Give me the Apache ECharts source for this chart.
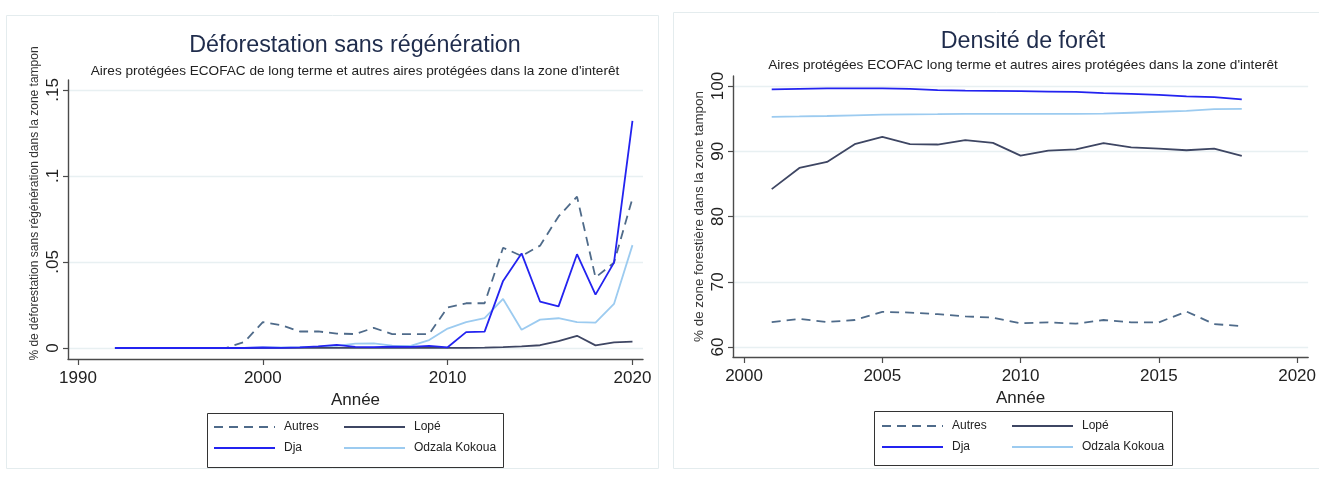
<!DOCTYPE html>
<html>
<head>
<meta charset="utf-8">
<script src="https://cdn.jsdelivr.net/npm/echarts@6/dist/echarts.min.js"></script>
<style>
  html, body { margin: 0; padding: 0; background: #ffffff; }
  #chart { width: 1319px; height: 478px; }
</style>
</head>
<body>
<div id="chart"></div>
<script>
// ---- Déforestation sans régénération (share of buffer zone) ----
const defoYears = [1992, 1993, 1994, 1995, 1996, 1997, 1998, 1999, 2000, 2001,
  2002, 2003, 2004, 2005, 2006, 2007, 2008, 2009, 2010, 2011,
  2012, 2013, 2014, 2015, 2016, 2017, 2018, 2019, 2020];
const defoAutres = [0, 0, 0, 0, 0, 0, 0, 0.0035, 0.015, 0.0133,
  0.0096, 0.0096, 0.0084, 0.0081, 0.0117, 0.0081, 0.0081, 0.0081, 0.0236, 0.026,
  0.026, 0.0583, 0.0535, 0.0595, 0.0765, 0.088, 0.041, 0.0496, 0.087];
const defoLope = [0, 0, 0, 0, 0, 0, 0, 0, 0.0001, 0.0001,
  0.0001, 0.0001, 0.0001, 0.0001, 0.0001, 0.0001, 0.0001, 0.0001, 0.0001, 0.0001,
  0.0002, 0.0005, 0.0009, 0.0016, 0.004, 0.0071, 0.0015, 0.0033, 0.0037];
const defoDja = [0, 0, 0, 0, 0, 0, 0, 0, 0.0003, 0.0001,
  0.0004, 0.0009, 0.0018, 0.0006, 0.0005, 0.0008, 0.0006, 0.0012, 0.0004, 0.0092,
  0.0095, 0.039, 0.055, 0.027, 0.0242, 0.0545, 0.031, 0.0496, 0.132];
const defoOdzala = [0, 0, 0, 0, 0, 0, 0, 0, 0.0004, 0.0004,
  0.0005, 0.0008, 0.0012, 0.0025, 0.0027, 0.0014, 0.0012, 0.0046, 0.0113, 0.015,
  0.0173, 0.0285, 0.0106, 0.0165, 0.0173, 0.015, 0.0148, 0.0256, 0.0598];
const defoXTicks = [1990, 2000, 2010, 2020];
const defoYTicks = [0, 0.05, 0.1, 0.15];

// ---- Densité de forêt (% forest cover in buffer zone) ----
const forestYears = [2001, 2002, 2003, 2004, 2005, 2006, 2007, 2008, 2009,
  2010, 2011, 2012, 2013, 2014, 2015, 2016, 2017, 2018];
const forestAutres = [63.83, 64.3, 63.83, 64.14, 65.39, 65.28, 65.03, 64.7, 64.5,
  63.63, 63.78, 63.57, 64.14, 63.78, 63.78, 65.44, 63.52, 63.2];
const forestLope = [84.2, 87.44, 88.36, 91.08, 92.2, 91.08, 91.03, 91.7, 91.28,
  89.33, 90.1, 90.3, 91.23, 90.6, 90.4, 90.15, 90.4, 89.28];
const forestDja = [99.49, 99.55, 99.62, 99.64, 99.64, 99.55, 99.38, 99.3, 99.25,
  99.2, 99.15, 99.1, 98.9, 98.8, 98.65, 98.4, 98.3, 97.95];
const forestOdzala = [95.28, 95.33, 95.4, 95.5, 95.6, 95.65, 95.68, 95.72, 95.74,
  95.72, 95.72, 95.72, 95.76, 95.9, 96.05, 96.2, 96.46, 96.5];
const forestXTicks = [2000, 2005, 2010, 2015, 2020];
const forestYTicks = [60, 70, 80, 90, 100];

const FONT = '"Liberation Sans", Arial, sans-serif';
const INK = '#222222';
const AXIS = '#4b4b4b';
const GRIDLINE = '#e8f0f2';

const styles = {
  'Autres':        { color: '#4f6b8a', width: 1.8, type: [9, 6] },
  'Lopé':          { color: '#3e4663', width: 1.8, type: 'solid' },
  'Dja':           { color: '#2323f0', width: 1.8, type: 'solid' },
  'Odzala Kokoua': { color: '#9ccbf0', width: 1.8, type: 'solid' }
};

function lineSeries(name, xs, ys, axisIndex, z) {
  const s = styles[name];
  return {
    type: 'line',
    name: name,
    xAxisIndex: axisIndex,
    yAxisIndex: axisIndex,
    data: xs.map((x, i) => [x, ys[i]]),
    symbol: 'none',
    color: s.color,
    lineStyle: { color: s.color, width: s.width, type: s.type },
    z: z,
    animation: false
  };
}

function xAxisDef(gridIndex, min, max, ticks) {
  return {
    type: 'value', gridIndex: gridIndex, min: min, max: max,
    name: 'Année', nameLocation: 'middle', nameGap: 29,
    nameTextStyle: { fontFamily: FONT, fontSize: 17, color: INK },
    axisLine: { show: true, onZero: false, lineStyle: { color: AXIS, width: 1.4 } },
    axisTick: { show: true, length: 6, customValues: ticks, lineStyle: { color: AXIS, width: 1.2 } },
    axisLabel: { customValues: ticks, fontFamily: FONT, fontSize: 17, color: INK, margin: 11,
      formatter: v => String(v) },
    splitLine: { show: false }
  };
}

function yAxisDef(gridIndex, min, max, ticks, name, nameSize, namePad, fmt) {
  return {
    type: 'value', gridIndex: gridIndex, min: min, max: max,
    name: name, nameLocation: 'middle', nameGap: 27,
    nameTextStyle: { fontFamily: FONT, fontSize: nameSize, color: '#333333', padding: namePad },
    axisLine: { show: true, lineStyle: { color: AXIS, width: 1.4 } },
    axisTick: { show: true, length: 5, customValues: ticks, lineStyle: { color: AXIS, width: 1.2 } },
    axisLabel: { customValues: ticks, rotate: 90, fontFamily: FONT, fontSize: 17, color: INK,
      margin: 6, formatter: fmt },
    splitLine: { show: true, lineStyle: { color: GRIDLINE, width: 1.4 } }
  };
}

// Each legend column shows only the line sample (no marker).
function legendCol(left, top, names) {
  return {
    orient: 'vertical', left: left, top: top, padding: 0,
    itemWidth: 61, itemHeight: 14, itemGap: 9,
    data: names,
    itemStyle: { opacity: 0, borderWidth: 0 },
    textStyle: { fontFamily: FONT, fontSize: 12, color: INK, padding: [0, 0, 0, 4] }
  };
}

const chart = echarts.init(document.getElementById('chart'), null, { renderer: 'canvas' });

chart.setOption({
  backgroundColor: '#ffffff',
  animation: false,
  title: [
    { text: 'Déforestation sans régénération', left: 355, top: 34, textAlign: 'center', padding: 0,
      textStyle: { fontFamily: FONT, fontSize: 23.3, fontWeight: 'normal', color: '#1f2c4c' } },
    { text: "Aires protégées ECOFAC de long terme et autres aires protégées dans la zone d'interêt",
      left: 355, top: 64, textAlign: 'center', padding: 0,
      textStyle: { fontFamily: FONT, fontSize: 13.6, fontWeight: 'normal', color: INK } },
    { text: 'Densité de forêt', left: 1023, top: 30, textAlign: 'center', padding: 0,
      textStyle: { fontFamily: FONT, fontSize: 23.3, fontWeight: 'normal', color: '#1f2c4c' } },
    { text: "Aires protégées ECOFAC long terme et autres aires protégées dans la zone d'interêt",
      left: 1023, top: 58, textAlign: 'center', padding: 0,
      textStyle: { fontFamily: FONT, fontSize: 13.6, fontWeight: 'normal', color: INK } }
  ],
  grid: [
    { left: 68, top: 80, width: 575, height: 279 },
    { left: 733, top: 76, width: 578, height: 281 }
  ],
  xAxis: [
    xAxisDef(0, 1989.46, 2020.57, defoXTicks),
    xAxisDef(1, 1999.6, 2020.4, forestXTicks)
  ],
  yAxis: [
    yAxisDef(0, -0.0064, 0.1558, defoYTicks,
      '% de déforestation sans régénération dans la zone tampon', 12, [0, 0, 0, 32],
      v => (v === 0 ? '0' : String(+v.toFixed(2)).replace(/^0\./, '.'))),
    yAxisDef(1, 58.47, 101.53, forestYTicks,
      '% de zone forestière dans la zone tampon', 13.4, 0,
      v => String(v))
  ],
  legend: [
    legendCol(213, 421, ['Autres', 'Dja']),
    legendCol(343, 421, ['Lopé', 'Odzala Kokoua']),
    legendCol(881, 420, ['Autres', 'Dja']),
    legendCol(1011, 420, ['Lopé', 'Odzala Kokoua'])
  ],
  graphic: [
    { type: 'rect', shape: { x: 6.5, y: 15.5, width: 652, height: 453 }, z: -10,
      style: { fill: '#ffffff', stroke: '#e4ecee', lineWidth: 1 } },
    { type: 'rect', shape: { x: 673.5, y: 12.5, width: 650, height: 456 }, z: -10,
      style: { fill: '#ffffff', stroke: '#e4ecee', lineWidth: 1 } },
    { type: 'rect', shape: { x: 207.5, y: 413.5, width: 296, height: 54 }, z: 5,
      style: { fill: 'none', stroke: '#333333', lineWidth: 1 } },
    { type: 'rect', shape: { x: 874.5, y: 411.5, width: 298, height: 54 }, z: 5,
      style: { fill: 'none', stroke: '#333333', lineWidth: 1 } }
  ],
  series: [
    lineSeries('Autres', defoYears, defoAutres, 0, 2),
    lineSeries('Odzala Kokoua', defoYears, defoOdzala, 0, 3),
    lineSeries('Lopé', defoYears, defoLope, 0, 4),
    lineSeries('Dja', defoYears, defoDja, 0, 5),
    lineSeries('Autres', forestYears, forestAutres, 1, 2),
    lineSeries('Odzala Kokoua', forestYears, forestOdzala, 1, 3),
    lineSeries('Lopé', forestYears, forestLope, 1, 4),
    lineSeries('Dja', forestYears, forestDja, 1, 5)
  ]
});
</script>
</body>
</html>
